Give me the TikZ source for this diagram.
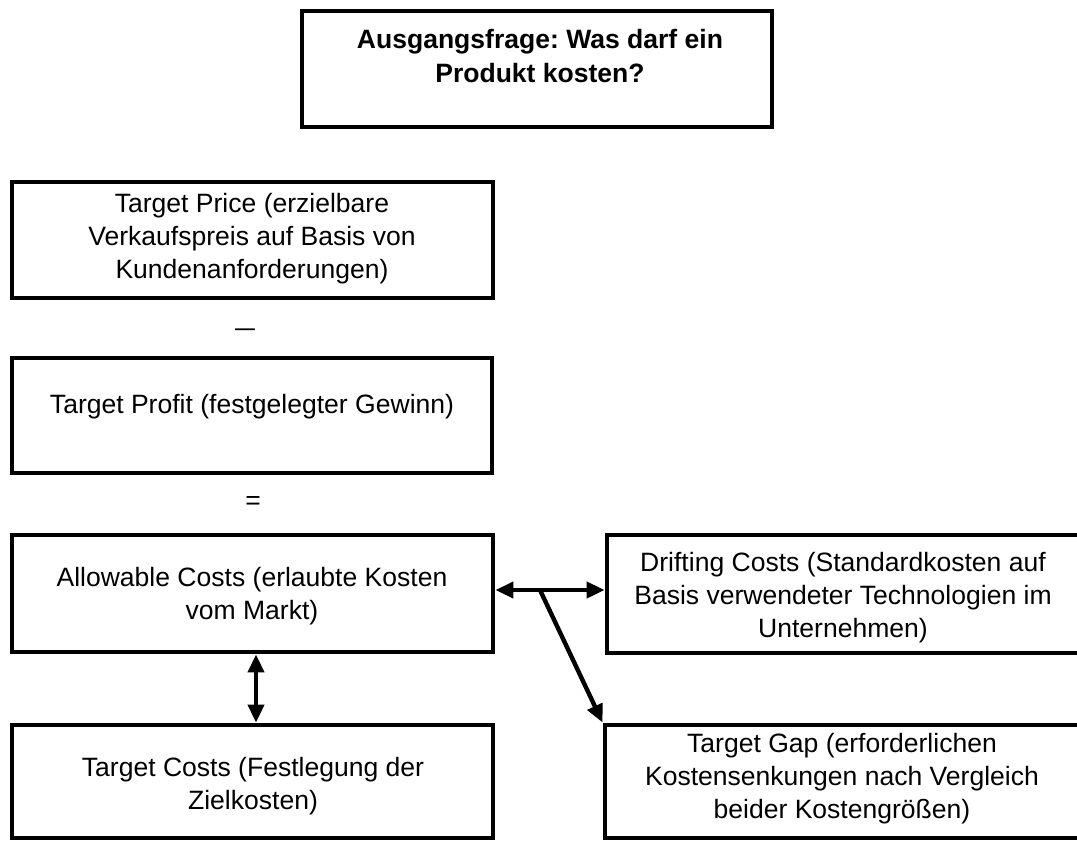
\documentclass[tikz,border=0pt]{standalone}
\usepackage{fontspec}
\setmainfont{Liberation Sans}
\usetikzlibrary{arrows.meta}
\frenchspacing
\begin{document}
\begin{tikzpicture}[x=0.75pt,y=-0.75pt,
  box/.style={draw=black,line width=3.7pt,inner sep=0pt,outer sep=1.85pt,fill=none},
  lbl/.style={align=center,inner sep=0pt,font=\fontsize{19.9}{24.8}\selectfont},
  link/.style={line width=3.3pt,{Triangle[length=13.5pt,width=12pt]}-{Triangle[length=13.5pt,width=12pt]}},
  onelink/.style={line width=3.3pt,-{Triangle[length=13.5pt,width=12pt]}}]
\useasboundingbox (0,0) rectangle (1077,841);
\clip (0,0) rectangle (1077,841);
\fill[white] (0,0) rectangle (1077,841);

% boxes
\node[box,minimum width={470*0.75pt},minimum height={116*0.75pt}] (q) at (537,69) {};
\node[box,minimum width={481*0.75pt},minimum height={116*0.75pt}] (price) at (252.5,240) {};
\node[box,minimum width={480*0.75pt},minimum height={115*0.75pt}] (profit) at (252,415.5) {};
\node[box,minimum width={481*0.75pt},minimum height={117*0.75pt}] (allow) at (252.5,593.5) {};
\node[box,minimum width={481*0.75pt},minimum height={113*0.75pt}] (costs) at (252.5,781.5) {};
\node[box,minimum width={483*0.75pt},minimum height={118*0.75pt}] (drift) at (848.5,594) {};
\node[box,minimum width={485*0.75pt},minimum height={113*0.75pt}] (gap) at (847.5,781.5) {};

% texts
\node[lbl,font=\fontsize{19.9}{24.8}\selectfont\bfseries] (qt) at (540,56) {Ausgangsfrage: Was darf ein\\Produkt kosten?};
\node[lbl] (pricet) at (252,239) {Target Price (erzielbare\\Verkaufspreis auf Basis von\\Kundenanforderungen)};
\node[lbl] (minus) at (245,333) {\scalebox{1.35}[1]{–}};
\node[lbl] (profitt) at (252,407) {Target Profit (festgelegter Gewinn)};
\node[lbl] (equals) at (253,503) {=};
\node[lbl] (allowt) at (252,596) {Allowable Costs (erlaubte Kosten\\vom Markt)};
\node[lbl] (driftt) at (843,598) {Drifting Costs (Standardkosten auf\\Basis verwendeter Technologien im\\Unternehmen)};
\node[lbl] (costst) at (253,786) {Target Costs (Festlegung der\\Zielkosten)};
\node[lbl] (gapt) at (842,779) {Target Gap (erforderlichen\\Kostensenkungen nach Vergleich\\beider Kostengrößen)};

% connectors
\coordinate (hy) at (0,590);
\coordinate (fork) at (540,590);
\coordinate (vx) at (256,0);
\draw[link] (allow.east |- hy) -- (drift.west |- hy);
\draw[onelink] (fork) -- (gap.north west);
\draw[link] (allow.south -| vx) -- (costs.north -| vx);
\end{tikzpicture}
\end{document}
